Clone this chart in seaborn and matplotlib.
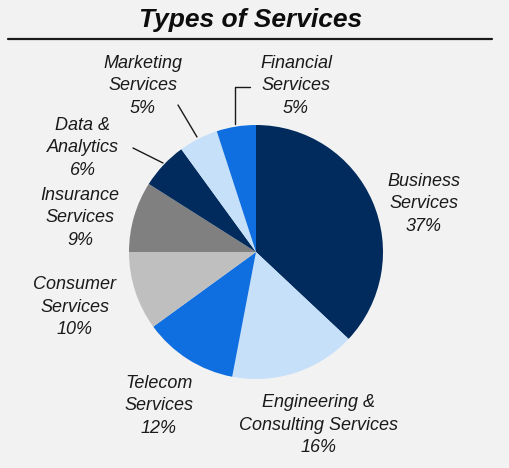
import matplotlib
matplotlib.use("Agg")
import matplotlib.pyplot as plt
import seaborn as sns

# Service mix (share of total, %)
categories = [
    "Business\nServices",
    "Engineering &\nConsulting Services",
    "Telecom\nServices",
    "Consumer\nServices",
    "Insurance\nServices",
    "Data &\nAnalytics",
    "Marketing\nServices",
    "Financial\nServices",
]
shares = [37, 16, 12, 10, 9, 6, 5, 5]

colors = ["#002b5c", "#c6e0fa", "#0f6fe0", "#bfbfbf",
          "#808080", "#002b5c", "#c6e0fa", "#0f6fe0"]

# Label anchor points in figure pixels (x from left, y from top)
label_xy = [(424, 204), (319, 425), (159, 406), (75, 307),
            (80, 218), (83, 148), (143, 86), (296, 86)]

sns.set_theme(style="white")
plt.rcParams["font.family"] = ["Liberation Sans", "DejaVu Sans"]

W, H = 510, 468
fig = plt.figure(figsize=(W / 100, H / 100), dpi=100)
fig.patch.set_facecolor("#f2f2f2")
ax = fig.add_axes([0, 0, 1, 1])
ax.set_facecolor("#f2f2f2")

def py(y):
    return H - y

ax.pie(shares, colors=colors, startangle=90, counterclock=False,
       center=(256, py(252)), radius=127,
       wedgeprops=dict(linewidth=0), frame=True)
ax.set_xlim(0, W)
ax.set_ylim(0, H)
ax.set_aspect("equal")
ax.axis("off")

for name, val, (x, y) in zip(categories, shares, label_xy):
    ax.text(x, py(y), f"{name}\n{val}%", ha="center", va="center",
            fontsize=13, fontstyle="italic", color="#1a1a1a",
            linespacing=1.4)

# Leader lines
ax.plot([235, 235, 250], [py(124), py(87), py(87)], color="#1a1a1a", lw=1.0)
ax.plot([178, 197], [py(105), py(137)], color="#1a1a1a", lw=1.0)
ax.plot([133, 163], [py(148), py(163)], color="#1a1a1a", lw=1.0)

# Title and rule
ax.text(251, py(20), "Types of Services", ha="center", va="center",
        fontsize=19, fontweight="bold", fontstyle="italic", color="#0d0d0d")
ax.plot([8, 492], [py(39), py(39)], color="#1a1a1a", lw=1.6)

fig.savefig("out.png", dpi=100, facecolor=fig.get_facecolor())
